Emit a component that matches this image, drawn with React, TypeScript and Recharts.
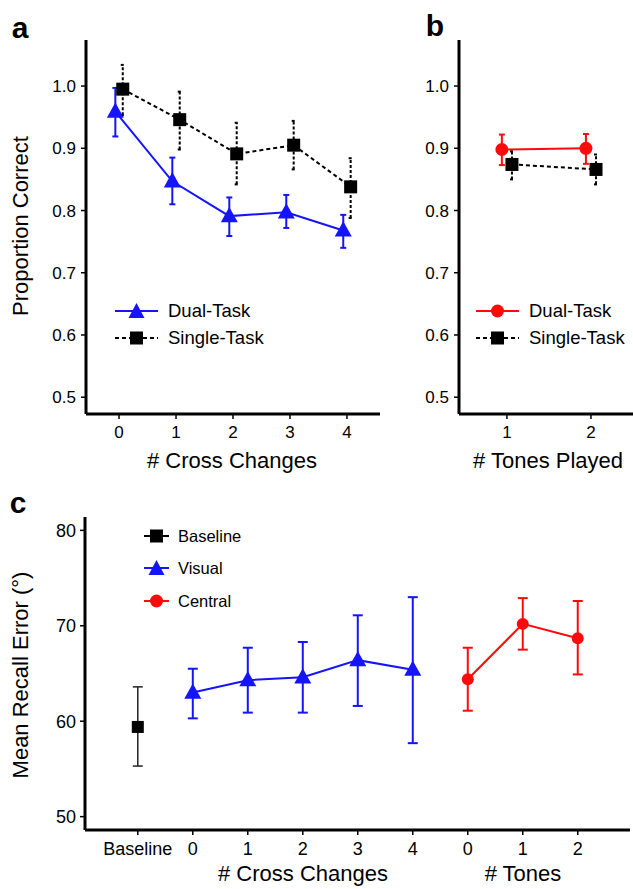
import React from 'react'
import { ComposedChart, Line, XAxis, YAxis, ErrorBar } from 'recharts'

// panel a: proportion correct by number of cross changes
const crossChanges = [0, 1, 2, 3, 4]
const dualMean = [0.959, 0.847, 0.791, 0.797, 0.768]
const dualLo = [0.919, 0.81, 0.759, 0.772, 0.74]
const dualHi = [0.997, 0.885, 0.821, 0.825, 0.793]
const singleMean = [0.995, 0.946, 0.891, 0.905, 0.838]
const singleLo = [0.953, 0.898, 0.842, 0.866, 0.788]
const singleHi = [1.034, 0.991, 0.941, 0.944, 0.884]

// panel b: proportion correct by number of tones played
const tonesPlayed = [1, 2]
const toneDualMean = [0.898, 0.9]
const toneDualLo = [0.873, 0.875]
const toneDualHi = [0.922, 0.923]
const toneSingleMean = [0.874, 0.866]
const toneSingleLo = [0.85, 0.842]
const toneSingleHi = [0.895, 0.89]

const propTicks = [0.5, 0.6, 0.7, 0.8, 0.9, 1.0]

// panel c: mean recall error
const cLabels = ['Baseline', '0', '1', '2', '3', '4', '0', '1', '2']
const baselineMean = [59.4]
const baselineLo = [55.3]
const baselineHi = [63.6]
const visualMean = [63.0, 64.3, 64.6, 66.4, 65.4]
const visualLo = [60.3, 60.9, 60.9, 61.6, 57.7]
const visualHi = [65.5, 67.7, 68.3, 71.1, 73.0]
const centralMean = [64.4, 70.2, 68.7]
const centralLo = [61.1, 67.5, 64.9]
const centralHi = [67.7, 72.9, 72.6]
const errTicks = [50, 60, 70, 80]

const BLUE = '#1414ff'
const RED = '#ff0a0a'
const FONT = '"Liberation Sans", Arial, sans-serif'

const build = (xs: number[], mean: number[], lo: number[], hi: number[], shift: number) =>
  xs.map((x, i) => ({ x: x + shift, y: mean[i], err: [mean[i] - lo[i], hi[i] - mean[i]] }))

const triDot = (color: string, w: number) => (p: any) => {
  const { cx, cy, index } = p
  if (cx == null || cy == null) return <g key={index} />
  const h = w * 0.9
  return (
    <path key={index} d={`M${cx},${cy - h * 0.6}L${cx + w / 2},${cy + h * 0.4}L${cx - w / 2},${cy + h * 0.4}Z`} fill={color} />
  )
}
const sqDot = (color: string, s: number) => (p: any) => {
  const { cx, cy, index } = p
  if (cx == null || cy == null) return <g key={index} />
  return <rect key={index} x={cx - s / 2} y={cy - s / 2} width={s} height={s} fill={color} />
}
const circDot = (color: string, r: number) => (p: any) => {
  const { cx, cy, index } = p
  if (cx == null || cy == null) return <g key={index} />
  return <circle key={index} cx={cx} cy={cy} r={r} fill={color} />
}

const axisLine = { stroke: '#000', strokeWidth: 3 }
const tickLine = { stroke: '#000', strokeWidth: 1.5 }

type Row = { y: number; label: string; color: string; dashed?: boolean; marker: 'tri' | 'sq' | 'circ' }

const LegendBox = ({ left, width, textLeft, fontSize, rows }: { left: number; width: number; textLeft: number; fontSize: number; rows: Row[] }) => (
  <>
    {rows.map((r) => {
      const m = width / 2
      return (
        <React.Fragment key={r.label}>
          <svg style={{ position: 'absolute', left, top: r.y - 10 }} width={width} height={20}>
            <line x1={0} x2={width} y1={10} y2={10} stroke={r.color} strokeWidth={2} strokeDasharray={r.dashed ? '4 3' : undefined} />
            {r.marker === 'tri' && <path d={`M${m},2L${m + 8},17L${m - 8},17Z`} fill={r.color} />}
            {r.marker === 'sq' && <rect x={m - 6.5} y={3.5} width={13} height={13} fill={r.color} />}
            {r.marker === 'circ' && <circle cx={m} cy={10} r={6.5} fill={r.color} />}
          </svg>
          <div style={{ position: 'absolute', left: textLeft, top: r.y - 12, height: 24, display: 'flex', alignItems: 'center', fontSize, whiteSpace: 'nowrap' }}>
            {r.label}
          </div>
        </React.Fragment>
      )
    })}
  </>
)

const Txt = ({ x, y, size, children, bold, rotate }: any) => (
  <div
    style={{
      position: 'absolute',
      left: x,
      top: y,
      fontSize: size,
      fontWeight: bold ? 'bold' : 'normal',
      whiteSpace: 'nowrap',
      lineHeight: 1,
      transform: `translate(-50%, -50%)${rotate ? ' rotate(-90deg)' : ''}`,
    }}
  >
    {children}
  </div>
)

export default function App() {
  const aDual = build(crossChanges, dualMean, dualLo, dualHi, -0.065)
  const aSingle = build(crossChanges, singleMean, singleLo, singleHi, 0.065)
  const bDual = build(tonesPlayed, toneDualMean, toneDualLo, toneDualHi, -0.06)
  const bSingle = build(tonesPlayed, toneSingleMean, toneSingleLo, toneSingleHi, 0.06)
  const cBase = build([0], baselineMean, baselineLo, baselineHi, 0)
  const cVisual = build([1, 2, 3, 4, 5], visualMean, visualLo, visualHi, 0)
  const cCentral = build([6, 7, 8], centralMean, centralLo, centralHi, 0)

  return (
    <div style={{ position: 'absolute', left: 0, top: 0, width: 633, height: 889, background: '#fff', fontFamily: FONT, color: '#000', overflow: 'hidden' }}>
      <div style={{ position: 'absolute', left: 0, top: 0 }}>
        <ComposedChart width={400} height={480} margin={{ top: 40, right: 20, bottom: 36, left: 46 }}>
          <XAxis type="number" dataKey="x" domain={[-0.58, 4.58]} ticks={crossChanges} allowDataOverflow height={30}
            axisLine={axisLine} tickLine={tickLine} tickSize={5} tickMargin={7} tick={{ fill: '#000', fontSize: 17 }} />
          <YAxis type="number" domain={[0.473, 1.074]} ticks={propTicks} allowDataOverflow width={40}
            axisLine={axisLine} tickLine={tickLine} tickSize={5} tickMargin={5} tick={{ fill: '#000', fontSize: 17 }}
            tickFormatter={(v: number) => v.toFixed(1)} />
          <Line data={aDual} dataKey="y" stroke={BLUE} strokeWidth={2} dot={triDot(BLUE, 17)} activeDot={false} isAnimationActive={false}>
            <ErrorBar dataKey="err" direction="y" width={3} stroke={BLUE} strokeWidth={2} />
          </Line>
          <Line data={aSingle} dataKey="y" stroke="#000" strokeWidth={2} strokeDasharray="4 3" dot={sqDot('#000', 13)} activeDot={false} isAnimationActive={false}>
            <ErrorBar dataKey="err" direction="y" width={2} stroke="#000" strokeWidth={2} strokeDasharray="3 2" />
          </Line>
        </ComposedChart>
      </div>

      <div style={{ position: 'absolute', left: 400, top: 0 }}>
        <ComposedChart width={233} height={480} margin={{ top: 40, right: 0, bottom: 36, left: 19 }}>
          <XAxis type="number" dataKey="x" domain={[0.43, 2.5]} ticks={tonesPlayed} allowDataOverflow height={30}
            axisLine={axisLine} tickLine={tickLine} tickSize={5} tickMargin={7} tick={{ fill: '#000', fontSize: 17 }} />
          <YAxis type="number" domain={[0.473, 1.074]} ticks={propTicks} allowDataOverflow width={40}
            axisLine={axisLine} tickLine={tickLine} tickSize={5} tickMargin={5} tick={{ fill: '#000', fontSize: 17 }}
            tickFormatter={(v: number) => v.toFixed(1)} />
          <Line data={bDual} dataKey="y" stroke={RED} strokeWidth={2} dot={circDot(RED, 6.5)} activeDot={false} isAnimationActive={false}>
            <ErrorBar dataKey="err" direction="y" width={3} stroke={RED} strokeWidth={2} />
          </Line>
          <Line data={bSingle} dataKey="y" stroke="#000" strokeWidth={2} strokeDasharray="4 3" dot={sqDot('#000', 13)} activeDot={false} isAnimationActive={false}>
            <ErrorBar dataKey="err" direction="y" width={2} stroke="#000" strokeWidth={2} strokeDasharray="3 2" />
          </Line>
        </ComposedChart>
      </div>

      <div style={{ position: 'absolute', left: 0, top: 480 }}>
        <ComposedChart width={633} height={409} margin={{ top: 37, right: 3, bottom: 29, left: 45 }}>
          <XAxis type="number" dataKey="x" domain={[-0.96, 8.95]} ticks={[0, 1, 2, 3, 4, 5, 6, 7, 8]} allowDataOverflow height={30}
            axisLine={axisLine} tickLine={tickLine} tickSize={5} tickMargin={7} tick={{ fill: '#000', fontSize: 18 }}
            tickFormatter={(v: number) => cLabels[v]} />
          <YAxis type="number" domain={[48.6, 81.4]} ticks={errTicks} allowDataOverflow width={40}
            axisLine={axisLine} tickLine={tickLine} tickSize={5} tickMargin={4} tick={{ fill: '#000', fontSize: 18 }} />
          <Line data={cBase} dataKey="y" stroke="#000" strokeWidth={2} dot={sqDot('#000', 12)} activeDot={false} isAnimationActive={false}>
            <ErrorBar dataKey="err" direction="y" width={5} stroke="#222" strokeWidth={1.5} />
          </Line>
          <Line data={cVisual} dataKey="y" stroke={BLUE} strokeWidth={2} dot={triDot(BLUE, 17)} activeDot={false} isAnimationActive={false}>
            <ErrorBar dataKey="err" direction="y" width={5} stroke={BLUE} strokeWidth={2} />
          </Line>
          <Line data={cCentral} dataKey="y" stroke={RED} strokeWidth={2} dot={circDot(RED, 6)} activeDot={false} isAnimationActive={false}>
            <ErrorBar dataKey="err" direction="y" width={5} stroke={RED} strokeWidth={2} />
          </Line>
        </ComposedChart>
      </div>

      <LegendBox left={115} width={43} textLeft={168} fontSize={18.5} rows={[
        { y: 311, label: 'Dual-Task', color: BLUE, marker: 'tri' },
        { y: 338, label: 'Single-Task', color: '#000', marker: 'sq', dashed: true },
      ]} />
      <LegendBox left={476} width={43} textLeft={529} fontSize={18.5} rows={[
        { y: 311, label: 'Dual-Task', color: RED, marker: 'circ' },
        { y: 338, label: 'Single-Task', color: '#000', marker: 'sq', dashed: true },
      ]} />
      <LegendBox left={144} width={25} textLeft={178} fontSize={16.5} rows={[
        { y: 536, label: 'Baseline', color: '#000', marker: 'sq' },
        { y: 568, label: 'Visual', color: BLUE, marker: 'tri' },
        { y: 601, label: 'Central', color: RED, marker: 'circ' },
      ]} />

      <Txt x={20} y={28} size={30} bold>a</Txt>
      <Txt x={435} y={26} size={30} bold>b</Txt>
      <Txt x={18} y={503} size={30} bold>c</Txt>

      <Txt x={21} y={226} size={22} rotate>Proportion Correct</Txt>
      <Txt x={232} y={461} size={22}>{'# Cross Changes'}</Txt>
      <Txt x={548} y={461} size={22}>{'# Tones Played'}</Txt>
      <Txt x={21} y={675} size={22} rotate>Mean Recall Error (°)</Txt>
      <Txt x={303} y={874} size={22}>{'# Cross Changes'}</Txt>
      <Txt x={523} y={874} size={22}>{'# Tones'}</Txt>
    </div>
  )
}
